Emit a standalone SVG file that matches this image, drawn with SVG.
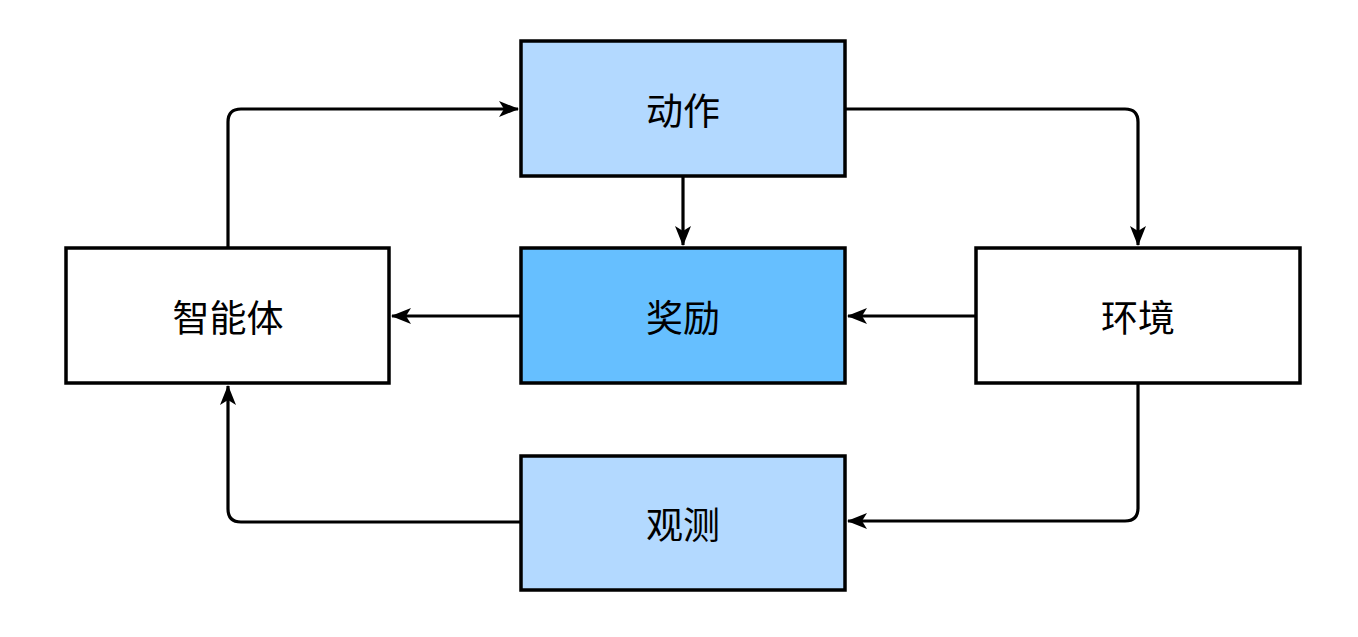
<svg xmlns="http://www.w3.org/2000/svg" width="1358" height="637" viewBox="0 0 1358 637">
<defs>
<style>
.box{stroke:#000;stroke-width:3.5}
.lbl{font-family:"Noto Sans CJK SC","Noto Sans",sans-serif;font-size:37px;text-anchor:middle;dominant-baseline:central;fill:#000}
.c{fill:none;stroke:#000;stroke-width:3.2;marker-end:url(#ah)}
</style>
<marker id="ah" viewBox="0 0 20 16" refX="19" refY="8" markerWidth="21" markerHeight="16" markerUnits="userSpaceOnUse" orient="auto">
<path d="M0,0 L20,8 L0,16 L5,8 Z" fill="#000"/>
</marker>
</defs>
<rect width="1358" height="637" fill="#fff"/>
<g id="connectors">
<path class="c" d="M228,248 V122 Q228,109 241,109 H518"/>
<path class="c" d="M845,109 H1125 Q1138,109 1138,122 V245"/>
<path class="c" d="M683,176 V245"/>
<path class="c" d="M521,316 H392"/>
<path class="c" d="M976,316 H848"/>
<path class="c" d="M1138,383 V508 Q1138,521 1125,521 H848"/>
<path class="c" d="M521,522 H241 Q228,522 228,509 V386"/>
</g>
<g id="action"><rect class="box" x="521" y="41" width="324" height="135" fill="#b3d9ff"/><text class="lbl" x="683" y="109">动作</text></g>
<g id="reward"><rect class="box" x="521" y="248" width="324" height="135" fill="#66bfff"/><text class="lbl" x="683" y="316">奖励</text></g>
<g id="agent"><rect class="box" x="66" y="248" width="323" height="135" fill="#fff"/><text class="lbl" x="228" y="316">智能体</text></g>
<g id="env"><rect class="box" x="976" y="248" width="324" height="135" fill="#fff"/><text class="lbl" x="1138" y="316">环境</text></g>
<g id="obs"><rect class="box" x="521" y="456" width="324" height="134" fill="#b3d9ff"/><text class="lbl" x="683" y="523">观测</text></g>
</svg>
